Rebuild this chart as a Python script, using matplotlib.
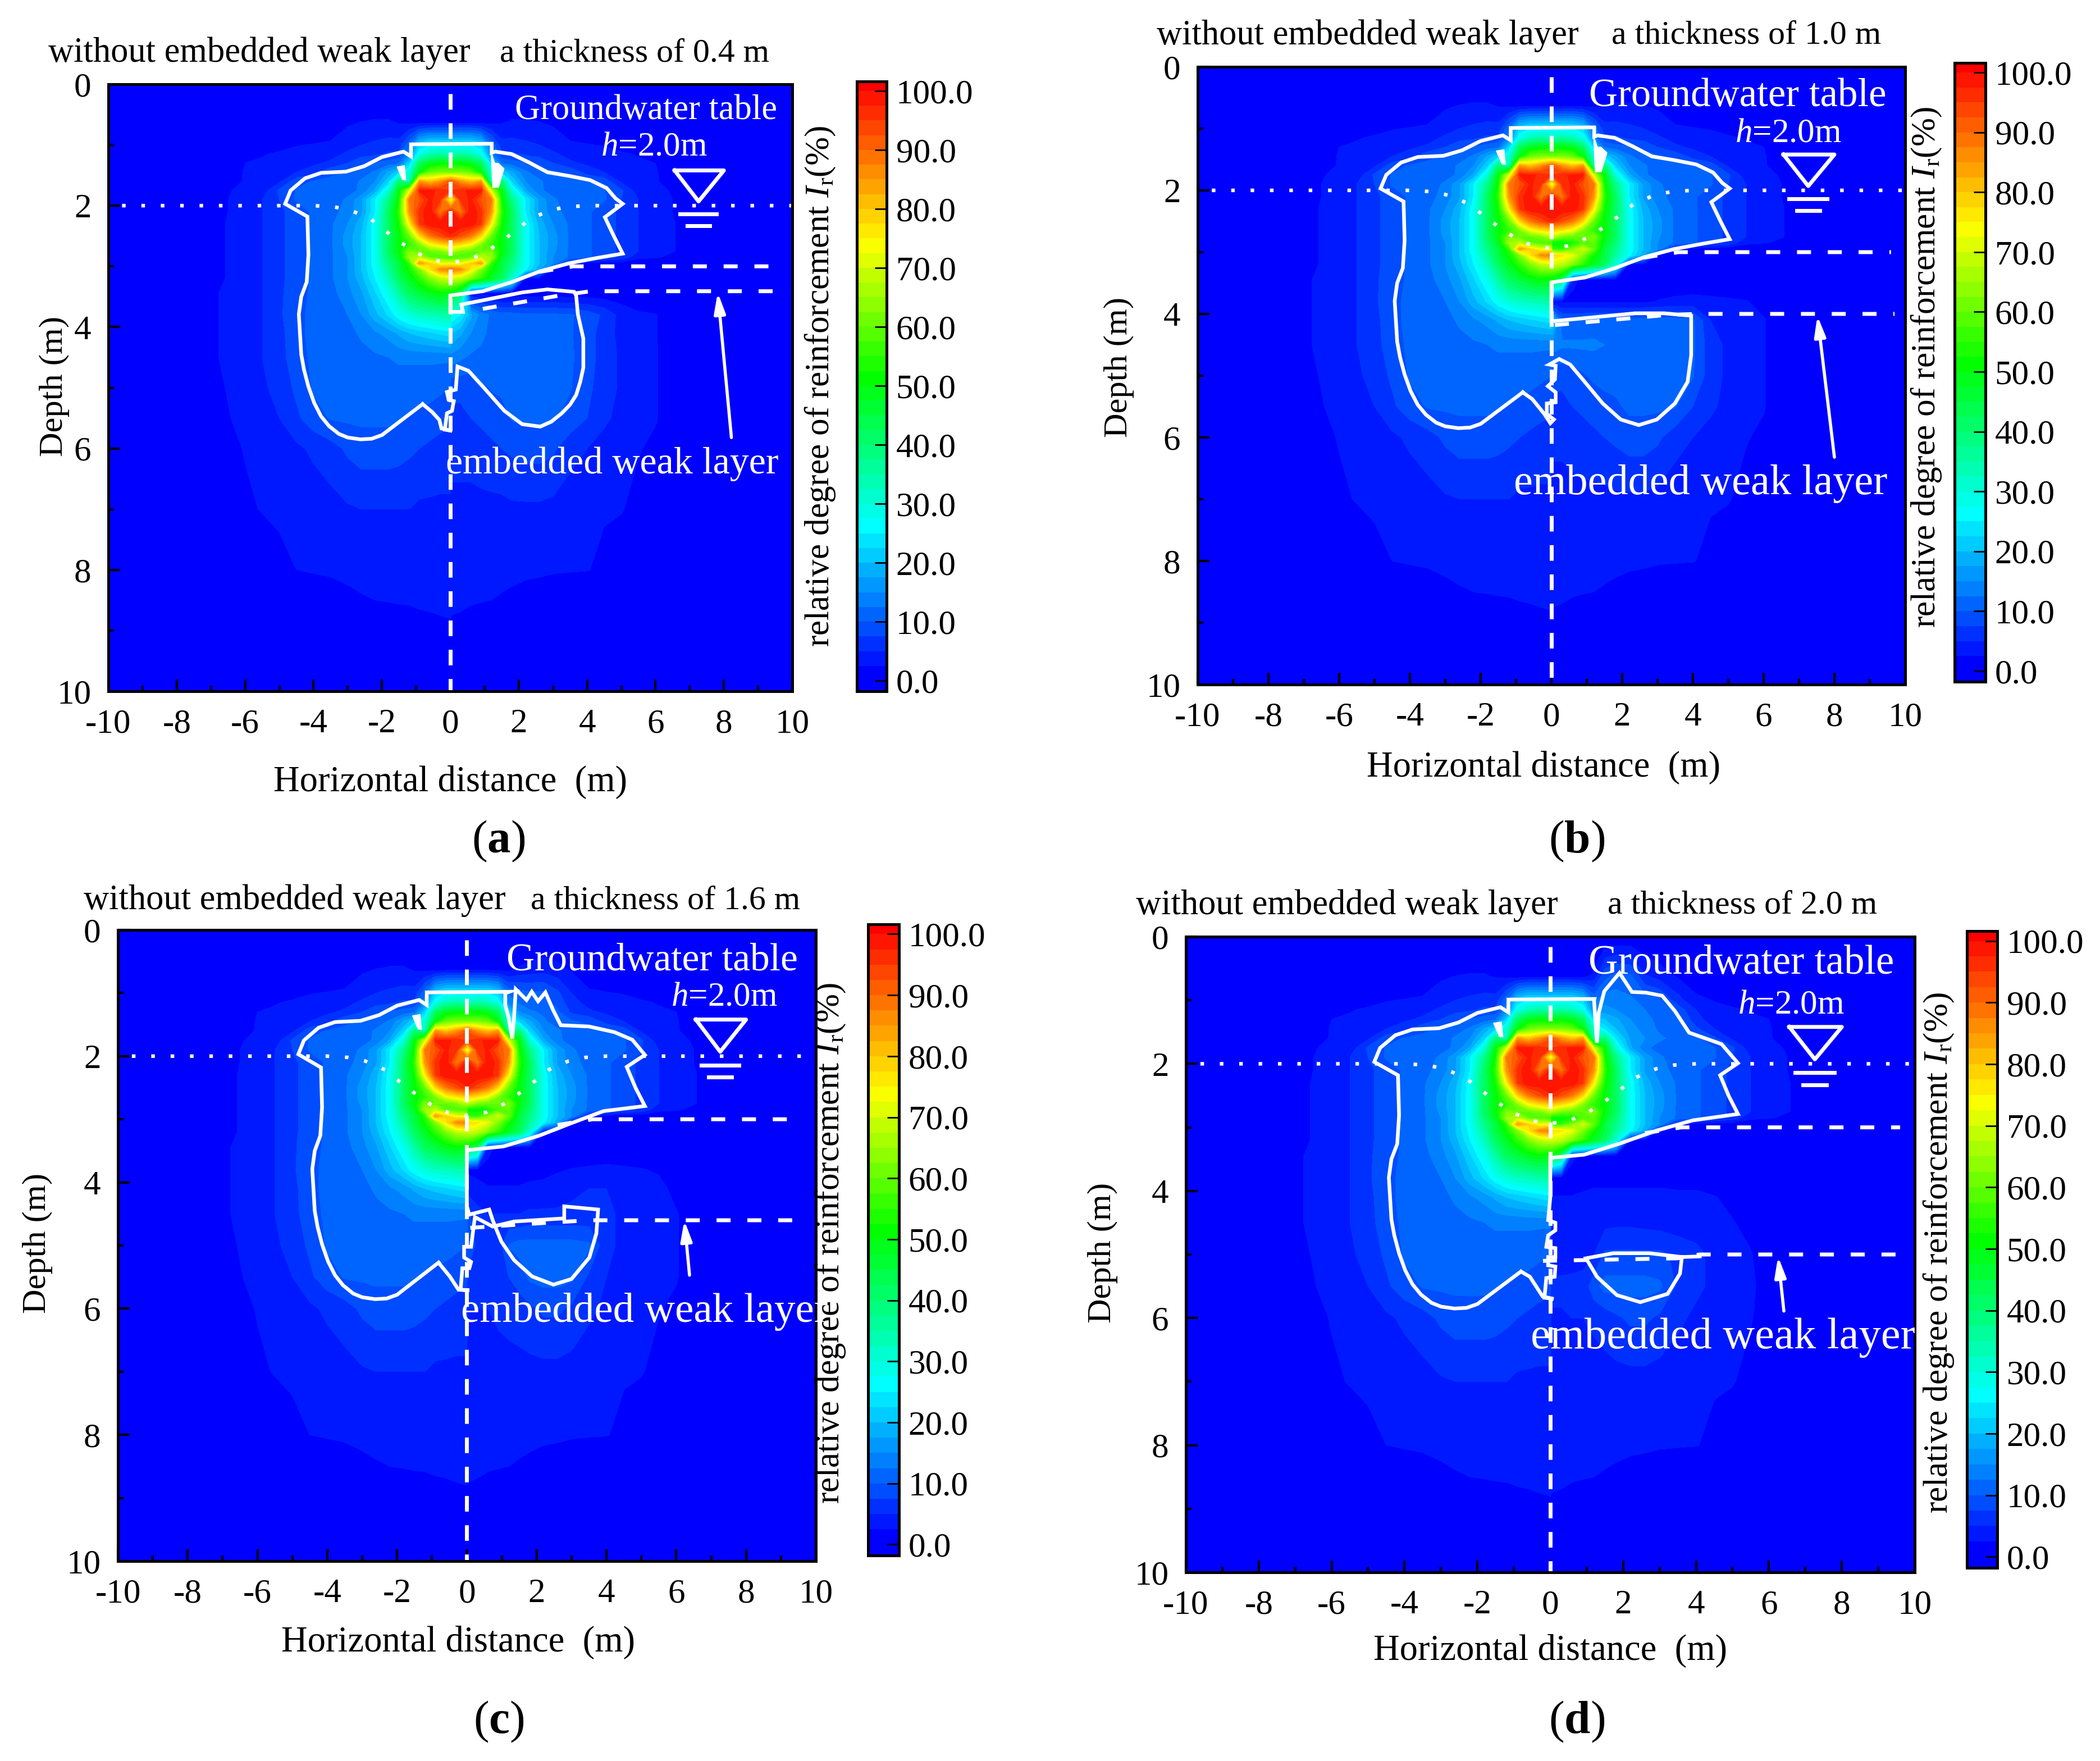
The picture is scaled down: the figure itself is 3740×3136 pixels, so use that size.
#!/usr/bin/env python3
"""Relative degree of reinforcement around a dropping point, four weak layer thicknesses."""

import numpy as np
import matplotlib
matplotlib.use("Agg")
import matplotlib.pyplot as plt
from matplotlib.colors import LinearSegmentedColormap
from matplotlib.ticker import MultipleLocator

plt.rcParams['font.family'] = ['Liberation Serif', 'DejaVu Serif']
plt.rcParams['mathtext.fontset'] = 'custom'
plt.rcParams['mathtext.rm'] = 'Liberation Serif'
plt.rcParams['mathtext.it'] = 'Liberation Serif:italic'
plt.rcParams['mathtext.bf'] = 'Liberation Serif:bold'

W, H = 3741, 3136

# distance from the centre line (m) and depth (m) of the value table
DIST = [0, .3, .6, .9, 1.2, 1.5, 1.8, 2.2, 2.6, 3, 3.5, 4, 4.5, 5, 5.5, 6, 7, 8, 10]
DEPTH = [0, .6, 1, 1.15, 1.3, 1.45, 1.6, 1.75, 1.9, 2.1, 2.3, 2.5, 2.65, 2.75, 2.85, 2.95, 3.05, 3.2, 3.45,
         3.8, 4.1, 4.5, 5, 5.5, 6, 7, 8, 8.5, 9, 10]

# left half, same in all panels
LEFT_VALUES = [
    [0] * 19,
    [0, 0, 0, 0, 1, 2, 2.6, 2.6, 2.4, 2, 1, .5, 0, 0, 0, 0, 0, 0, 0],
    [25, 25, 25, 22, 12, 6, 6, 5.5, 5, 4, 2.8, 2.6, 2.4, 2, 1.8, 1.5, 0, 0, 0],
    [33, 35, 33, 28, 14, 8, 8, 7, 6.5, 5.5, 4, 3.5, 3, 2.7, 2.4, 2, .5, 0, 0],
    [50, 50, 48, 42, 22, 12, 11, 10.2, 9.5, 7.5, 5.5, 4.5, 3.5, 3, 2.7, 2.5, 1, 0, 0],
    [62, 62, 60, 50, 30, 22, 18, 13, 11, 10.3, 9.5, 6.5, 5, 3.5, 3, 2.6, 1.2, 0, 0],
    [92, 85, 80, 85, 32, 40, 22, 15, 13, 11, 10.5, 10.2, 9, 4.5, 3.2, 2.6, 1.5, 0, 0],
    [95, 97, 98, 98, 70, 50, 30, 18, 13, 11.5, 10.8, 10.5, 10.2, 8, 3.5, 2.8, 2, .3, 0],
    [72, 96, 98, 92, 88, 52, 38, 25, 17, 13, 11, 10.5, 10.3, 7.5, 5, 3, 2, .5, 0],
    [98, 88, 100, 96, 85, 55, 42, 25, 17, 13.5, 11.5, 10.5, 8.5, 7, 5, 3, 2, .6, 0],
    [100, 100, 100, 95, 75, 52, 42, 27, 19, 15, 12, 10.5, 8.5, 7, 5, 3.2, 2, .6, 0],
    [97, 93, 88, 78, 60, 50, 42, 27, 20, 16, 12, 10.5, 8.5, 7, 5, 3.2, 2, .6, 0],
    [78, 76, 72, 62, 55, 50, 42, 27, 20, 16, 12, 10.5, 8.5, 7, 5, 3.2, 2, .6, 0],
    [68, 62, 60, 60, 62, 50, 42, 27, 20, 15.5, 12, 10.5, 8.5, 7, 5, 3.2, 2, .6, 0],
    [56, 58, 60, 68, 65, 48, 40, 27, 20, 15, 12, 10.5, 8.5, 7, 5, 3.2, 2, .6, 0],
    [72, 72, 78, 85, 55, 45, 38, 27, 20, 15, 12, 10.5, 8.5, 7, 5, 3.2, 2, .6, 0],
    [88, 86, 76, 62, 52, 45, 36, 26, 20, 15, 12, 10.5, 8.5, 7, 5, 3.2, 2, .6, 0],
    [70, 68, 62, 55, 48, 42, 33, 25, 19, 15, 12, 10.5, 8.5, 7, 5, 3.2, 2, .6, 0],
    [48, 50, 48, 45, 42, 35, 28, 22, 17, 14, 11.5, 10.5, 9, 7, 5, 3.5, 2.2, .6, 0],
    [35, 34, 33, 32, 30, 27, 23, 19, 15, 12.5, 11, 10.5, 9.5, 7, 5, 3.5, 2.2, .7, 0],
    [24, 23, 22, 21, 20, 18, 16, 14.5, 13, 11.5, 10.8, 10.5, 9.5, 6.5, 5, 3.5, 2.2, .8, 0],
    [13, 13, 13, 13, 13, 13, 12.5, 12, 11.5, 11, 10.8, 10.5, 9, 6.5, 5, 3.5, 2.2, .8, 0],
    [10, 10.5, 11, 11, 11, 11, 11, 11, 10.8, 10.7, 10.5, 10.3, 8, 6, 4.5, 3.2, 2, .7, 0],
    [8, 8.5, 9, 9.5, 9.8, 10.3, 10.5, 10.5, 10.5, 10.4, 10.2, 9, 7, 5, 3.8, 3, 1.8, .6, 0],
    [6.5, 6.5, 7, 7.5, 8, 8.5, 8.8, 8.8, 8.8, 8, 6.5, 5.5, 4.5, 3.8, 3, 2.6, 1.5, .4, 0],
    [4.5, 4.5, 4.5, 4.5, 5, 5, 5, 5, 5, 4.7, 4, 3.5, 3.2, 2.8, 2.6, 2.2, 1, .2, 0],
    [3.2, 3.2, 3.2, 3.2, 3.2, 3.2, 3.2, 3.2, 3.2, 3, 2.8, 2.7, 2.5, 2, 1.2, .5, .2, 0, 0],
    [2.8, 2.8, 2.8, 2.8, 2.7, 2.7, 2.6, 2.5, 2.3, 2, 1.5, 1, .5, .2, 0, 0, 0, 0, 0],
    [2.3, 2.2, 2, 1.8, 1.5, 1.2, 1, .8, .5, .3, .2, 0, 0, 0, 0, 0, 0, 0, 0],
    [0] * 19,
]

# right half, depths 2.85, 2.95, 3.05: the arc is weaker outside panel a
RIGHT_ARC_A = [
    [56, 58, 60, 68, 65, 48, 40, 27, 20, 15, 12, 10.5, 8.5, 7, 3, 2.7, 1.5, .3, 0],
    [72, 72, 78, 85, 55, 45, 38, 27, 20, 15, 3, 1.5, 1, 1, 1, 1, 1, 0, 0],
    [88, 86, 76, 62, 52, 45, 36, 26, 18, 2, 1.5, 1, 1, 1, 1, 1, .5, 0, 0],
]
RIGHT_ARC_OTHERS = [
    [50, 50, 52, 58, 60, 48, 40, 27, 20, 15, 12, 10.5, 8.5, 7, 3, 2.7, 1.5, .3, 0],
    [55, 55, 62, 70, 60, 45, 38, 27, 20, 15, 3, 1.5, 1, 1, 1, 1, 1, 0, 0],
    [78, 76, 72, 62, 52, 45, 36, 26, 18, 2, 1.5, 1, 1, 1, 1, 1, .5, 0, 0],
]
# depths 3.2, 3.45: the top of the weak layer, same in all panels
RIGHT_LAYER_TOP = [
    [70, 68, 62, 55, 48, 42, 30, 2.5, 2, 1, 1, 1, 1, 1, 1, .5, 0, 0, 0],
    [48, 40, 3, 2, 1.5, 1, 1, 1, 1, 1, 1, 1, 1, 1, 1, .5, 0, 0, 0],
]
RIGHT_BOTTOM = [
    [2.8, 2.8, 2.7, 2.6, 2.5, 2.3, 2, 1.5, 1, .5, .2, 0, 0, 0, 0, 0, 0, 0, 0],
    [2.2, 2, 1.5, 1.2, 1, .8, .5, .3, 0, 0, 0, 0, 0, 0, 0, 0, 0, 0, 0],
    [0] * 19,
]

# right half, depths 3.8 ... 8
RIGHT_A = [
    [28, 25, 18, 14, 12, 11, 11, 10.5, 10.5, 10.5, 10.3, 9, 7, 4, 2.8, 2.6, .5, 0, 0],
    [20, 18, 15, 13, 12, 11.5, 11, 11, 10.5, 10.5, 10.3, 8.5, 6.5, 4, 3, 2.6, .8, 0, 0],
    [14, 13, 12, 12, 12, 12, 11.5, 11.5, 11, 11, 10.5, 8.5, 6.5, 4.5, 3.2, 2.6, 1, .2, 0],
    [8, 8, 8, 9.5, 10.2, 10.5, 11, 11, 11, 10.5, 10.2, 8, 6.5, 4.5, 3.2, 2.6, 1, .2, 0],
    [7, 7, 7.5, 8, 8.5, 9, 10.2, 10.5, 10.5, 10.4, 9, 7.5, 5.5, 4.2, 3, 2.6, 1, .2, 0],
    [6, 6, 6, 6.5, 7, 7.5, 8, 8.5, 8.5, 8, 6, 5, 4, 3.2, 2.6, 2.2, .8, 0, 0],
    [4.2, 4.2, 4.2, 4.2, 4.2, 4.2, 4.5, 4.5, 4.5, 4.2, 3.5, 3, 2.7, 2.6, 2, 1.4, .6, 0, 0],
    [3.1, 3.1, 3.1, 3.1, 3.1, 3.1, 3.1, 3, 3, 2.8, 2.7, 2.6, 2, 1.4, 1, .5, .2, 0, 0],
]
RIGHT_B = [
    [2, 2, 2, 2, 2, 2, 2, 2, 2, 2.6, 3, 3.2, 3, 2.8, 2.6, 2, .8, 0, 0],
    [22, 10.5, 10.5, 10.5, 11, 11, 11, 11, 11, 11, 11, 10.5, 5, 4, 3, 2.6, 1, 0, 0],
    [14, 13, 13, 13, 13, 12.5, 12, 12, 11.5, 11, 11, 10.5, 6, 4.5, 3, 2.6, 1, .2, 0],
    [8, 8, 8.5, 9.7, 10.5, 11, 11, 11, 11, 11, 10.5, 10.2, 6, 4.5, 3.2, 2.6, 1, .2, 0],
    [7, 7, 7.5, 8, 8.5, 9, 9.5, 10.5, 10.5, 10.5, 10.2, 7.5, 5.5, 4.2, 3, 2.6, 1, .2, 0],
    [5.5, 5.5, 6, 6.5, 7, 7.5, 8, 8.8, 8.8, 8, 6, 5, 4, 3.2, 2.6, 2.2, .8, 0, 0],
    [4.2, 4.2, 4.2, 4.2, 4.2, 4.2, 4.5, 4.5, 4.5, 4.2, 3.5, 3, 2.7, 2.6, 2, 1.4, .6, 0, 0],
    [3.1, 3.1, 3.1, 3.1, 3.1, 3.1, 3.1, 3, 3, 2.8, 2.7, 2.6, 2, 1.4, 1, .5, .2, 0, 0],
]
RIGHT_C = [
    [2, 2, 2, 2, 2, 2, 2, 2, 2.3, 2.6, 2.8, 3, 2.8, 2.6, 2.3, 1.8, .5, 0, 0],
    [4, 3, 2.6, 2.6, 2.6, 2.6, 2.8, 3, 3.5, 4.5, 5, 5, 4, 3.5, 3, 2, .8, 0, 0],
    [8, 6, 5, 5, 5, 5, 5.5, 5.5, 5.5, 5.5, 5.5, 5.5, 4.5, 4, 3, 2.6, 1, 0, 0],
    [9, 7, 6, 6, 10.2, 11, 11, 11, 11, 11, 10.5, 5.5, 4.5, 4, 3, 2.6, 1, .2, 0],
    [7, 6, 6, 6.5, 7.5, 8.5, 10.5, 11, 11, 10.5, 7, 5, 4.2, 3.6, 2.8, 2.6, 1, .2, 0],
    [5, 5, 5, 5.5, 6, 6.5, 7, 8, 8, 7, 5.5, 4.5, 3.8, 3.2, 2.6, 2.2, .8, 0, 0],
    [4, 4, 4, 4, 4, 4, 4.2, 4.2, 4.2, 4, 3.5, 3, 2.7, 2.6, 2, 1.4, .6, 0, 0],
    [3.1, 3.1, 3.1, 3.1, 3.1, 3.1, 3.1, 3, 3, 2.8, 2.7, 2.6, 2, 1.4, 1, .5, .2, 0, 0],
]
RIGHT_D = [
    [1, 1, 1.5, 2, 2, 2, 2, 2, 2, 2, 2, 2, 1.5, 1.5, 1, .5, 0, 0, 0],
    [2.6, 2.6, 2.6, 2.7, 3, 3, 3, 3, 3, 3, 2.8, 2.8, 2.6, 2, 1.5, 1, 0, 0, 0],
    [3, 3, 3, 3.5, 4, 4.2, 4.5, 4.5, 4.2, 4, 3.5, 3.2, 2.8, 2.6, 2, 1.2, .3, 0, 0],
    [3, 3, 3.5, 4, 5, 8, 8, 8, 8, 8, 7, 6, 4, 3.2, 2.6, 1.5, .5, 0, 0],
    [6, 6, 6, 6, 9, 11, 11, 11, 11, 10.5, 7, 5.5, 4.5, 3.5, 2.7, 2, .8, 0, 0],
    [4.5, 4.5, 5, 5, 5.5, 6, 7, 8, 8, 7, 5.5, 4.5, 3.8, 3, 2.6, 1.8, .6, 0, 0],
    [3.6, 3.6, 3.6, 3.8, 3.8, 4, 4, 4, 4, 3.8, 3.5, 3, 2.7, 2.6, 2, 1.4, .5, 0, 0],
    [3.1, 3.1, 3.1, 3.1, 3.1, 3.1, 3.1, 3, 3, 2.8, 2.7, 2.6, 2, 1.4, 1, .5, .2, 0, 0],
]

# the bumps above the ground in panels c and d (depths .6, 1, 1.15, 1.3, 1.45, 1.6)
BUMP_C = [
    [0, 0, 0, 0, 1, 2.6, 3, 3.5, 3, 2, 1, .5, 0, 0, 0, 0, 0, 0, 0],
    [25, 25, 25, 22, 12, 11, 10.5, 10.5, 8, 5, 2.8, 2.6, 2.4, 2, 1.8, 1.5, 0, 0, 0],
    [33, 35, 33, 28, 14, 12, 11, 11, 9, 6, 4, 3.5, 3, 2.7, 2.4, 2, .5, 0, 0],
    [50, 50, 48, 42, 22, 15, 13, 12, 10.5, 7, 5.5, 4.5, 3.5, 3, 2.7, 2.5, 1, 0, 0],
    [62, 62, 60, 50, 30, 22, 18, 13, 11, 10.3, 9.5, 6.5, 5, 3.5, 3, 2.6, 1.2, 0, 0],
    [92, 85, 80, 85, 32, 40, 22, 15, 13, 11, 10.5, 10.2, 9, 4.5, 3.2, 2.6, 1.5, 0, 0],
]
BUMP_D = [
    [0, 0, 0, 0, 3, 9, 10.5, 10.2, 5, 3.5, 2, 1, 0, 0, 0, 0, 0, 0, 0],
    [25, 25, 25, 22, 12, 14, 14, 13, 11.5, 10.5, 6, 3, 2.4, 2, 1.8, 1.5, 0, 0, 0],
    [33, 35, 33, 28, 14, 16, 15, 14, 12.5, 11.5, 9, 5, 3, 2.7, 2.4, 2, .5, 0, 0],
    [50, 50, 48, 42, 22, 20, 18, 15, 13, 12, 10.5, 6, 3.5, 3, 2.7, 2.5, 1, 0, 0],
    [62, 62, 60, 50, 30, 24, 20, 16, 14, 12, 11, 8, 5, 3.5, 3, 2.6, 1.2, 0, 0],
    [92, 85, 80, 85, 32, 40, 24, 17, 15, 13, 11.5, 10.5, 8, 4.5, 3.2, 2.6, 1.5, 0, 0],
]

# white 10 % outline, left side and box, from the notch round to the box top right
OUTLINE_LEFT_X = [-.81, -1.37, -2, -2.3, -2.63, -3, -3.26, -3.55, -3.78, -3.98, -4.15, -4.28, -4.36, -4.43, -4.36,
                  -4.2, -4.15, -4.18, -4.83, -4.67, -4.25, -3.78, -3.05, -2.52, -2, -1.37, -1.15, -1.15, 1.21]
OUTLINE_LEFT_Y = [5.27, 5.51, 5.78, 5.84, 5.85, 5.82, 5.76, 5.63, 5.47, 5.25, 4.98, 4.7, 4.45, 3.79, 3.5,
                  3.26, 2.81, 2.18, 1.97, 1.75, 1.55, 1.46, 1.44, 1.35, 1.2, 1.11, 1.19, .99, .98]
BLOB_X = [-1.56, -1.34, -1.3, -1.4, -1.56]
BLOB_Y = [1.36, 1.34, 1.58, 1.57, 1.36]
WEDGE_X = [1.19, 1.3, 1.4, 1.57, 1.41, 1.24]
WEDGE_Y = [1.11, 1.3, 1.3, 1.39, 1.7, 1.7]

# right side of the outline, top of box down to the notch
OUTLINE_A_X = [1.21, 1.21, 1.31, 1.79, 2.31, 2.84, 3.47, 4.09, 4.57, 4.83, 5.04, 4.52, 4.78, 5.04, 4.31, 3.47,
               2.63, 1.79, .95, 0, 0, .37, .32, .95, 2.1, 2.84, 3.62, 3.68, 3.73, 3.89, 3.89, 3.8, 3.68, 3.5, 3.26,
               2.95, 2.63, 2.1, 1.58, .95, .53, .21, .16, -.1, -.05, .1, .05, -.1, -.16, .05, -.26, -.32, -.53, -.81]
OUTLINE_A_Y = [.98, 1.13, 1.11, 1.15, 1.29, 1.45, 1.51, 1.58, 1.71, 1.88, 1.97, 2.19, 2.5, 2.79, 2.86, 2.95,
               3.08, 3.26, 3.41, 3.48, 3.75, 3.75, 3.63, 3.56, 3.43, 3.38, 3.42, 3.48, 3.79, 4.19, 4.67, 4.9, 5.12,
               5.28, 5.42, 5.56, 5.64, 5.6, 5.38, 4.98, 4.72, 4.65, 5.03, 5.07, 5.2, 5.22, 5.38, 5.42, 5.69, 5.71,
               5.67, 5.53, 5.4, 5.27]
OUTLINE_B_X = [1.21, 1.21, 1.31, 1.79, 2.31, 2.84, 3.47, 4.09, 4.57, 4.83, 5.04, 4.52, 4.78, 5.04, 4.31, 3.47,
               2.63, 1.79, .95, 0, 0, 0, .73, 2.37, 3.18, 3.95, 3.95, 3.85, 3.49, 2.98, 2.47, 1.96, 1.45, .84, .53,
               .22, -.06, .12, .1, -.1, .12, .12, -.13, -.13, .07, -.03, -.2, -.54, -.81]
OUTLINE_B_Y = [.98, 1.13, 1.11, 1.15, 1.29, 1.45, 1.51, 1.58, 1.71, 1.88, 1.97, 2.19, 2.5, 2.79, 2.86, 2.95,
               3.08, 3.26, 3.41, 3.49, 4.06, 4.12, 4.08, 3.99, 3.99, 4.03, 4.67, 5.1, 5.45, 5.71, 5.8, 5.71, 5.45,
               5.03, 4.82, 4.73, 4.82, 4.84, 5.06, 5.17, 5.27, 5.43, 5.45, 5.62, 5.71, 5.77, 5.62, 5.38, 5.27]
OUTLINE_C_X = [1.1, 1.1, 1.2, 1.3, 1.35, 1.4, 1.71, 1.86, 2.04, 2.25, 2.48, 2.69, 3.5, 4.23, 4.74, 5.1, 4.58, 4.84,
               5.1, 3.92, 3, 2.07, 1.05, 0, 0, .07, .64, .74, .99, 1.35, 1.87, 2.48, 3, 3.51, 3.71, 3.76, 2.79, 2.79,
               1.35, .74, .23, .12, -.08, -.08, .12, .07, -.13, -.18, .07, -.24, -.49, -.8]
OUTLINE_C_Y = [1, 1.19, 1.4, 1.72, 1.4, .94, 1.11, .98, 1.13, .99, 1.28, 1.51, 1.53, 1.62, 1.74, 1.98, 2.17, 2.51,
               2.79, 2.87, 3.06, 3.26, 3.43, 3.49, 4.38, 4.51, 4.43, 4.6, 4.94, 5.23, 5.49, 5.62, 5.53, 5.19, 4.81,
               4.43, 4.38, 4.57, 4.62, 4.7, 4.55, 5.02, 5.02, 5.19, 5.26, 5.36, 5.36, 5.7, 5.71, 5.7, 5.49, 5.28]
OUTLINE_D_X = [1.2, 1.28, 1.33, 1.48, 1.9, 2.24, 2.62, 3.07, 3.42, 3.81, 4.7, 5.15, 4.66, 4.9, 5.15, 3.91, 2.92, 1.93,
               .93, 0, 0, -.06, .14, .14, -.06, -.11, .14, .14, -.06, -.06, .14, .12, -.11, -.16, .09, -.21, -.56, -.8]
OUTLINE_D_Y = [1, 1.67, 1.2, .86, .57, .87, .88, .93, 1.17, 1.51, 1.69, 1.99, 2.18, 2.51, 2.79, 2.89, 3.05, 3.25,
               3.43, 3.48, 4.1, 4.46, 4.5, 4.62, 4.7, 4.88, 4.9, 5.04, 5.04, 5.17, 5.19, 5.35, 5.37, 5.68, 5.7, 5.66,
               5.35, 5.27]
LENS_D_X = [4.1, 3.61, 2.72, 1.73, .98, 1.28, 1.83, 2.47, 3.22, 3.56, 3.61]
LENS_D_Y = [5.03, 5.04, 4.98, 4.98, 5.06, 5.35, 5.64, 5.75, 5.62, 5.3, 5.04]

# groundwater table, dotted
WATER_X = [-9.6, -4, -3.4, -2.9, -2.33, -1.89, -1.47, -1.05, -.55, 0, .55, 1.05, 1.47, 1.89, 2.33, 2.9, 3.4, 4, 10]
WATER_Y = [2, 2, 2.02, 2.08, 2.22, 2.42, 2.6, 2.76, 2.89, 2.94, 2.89, 2.76, 2.6, 2.42, 2.22, 2.08, 2.02, 2, 2]

# weak layer boundaries, dashed
LAYER_TOP_X = [2.6, 3.6, 9.6]
LAYER_TOP_Y = [3.09, 3, 3]
LAYER_BOTTOM = {
    'a': ([.95, 3.1, 4.1, 9.6], [3.7, 3.49, 3.41, 3.41]),
    'b': ([.1, 3.2, 4.1, 9.7], [4.18, 4.02, 4, 4]),
    'c': ([.1, 2, 3.5, 9.6], [4.72, 4.65, 4.6, 4.6]),
    'd': ([-.2, 3.5, 4.1, 9.6], [5.1, 5.06, 5, 5]),
}

THICKNESS = {'a': '0.4', 'b': '1.0', 'c': '1.6', 'd': '2.0'}

# pixel boxes of the axes and of the colour bars, left right top bottom
AXES_BOX = {'a': (193, 1411, 150, 1231), 'b': (2133, 3393, 119, 1219),
            'c': (210, 1453, 1656, 2780), 'd': (2112, 3410, 1668, 2800)}
CBAR_BOX = {'a': (1526, 1579, 145, 1231), 'b': (3481, 3536, 112, 1214),
            'c': (1546, 1601, 1646, 2770), 'd': (3503, 3557, 1658, 2792)}

# text positions in pixels of the original
LABEL_POS = {
    'a': dict(t1=(462, 95), t2=(1130, 95), xl=(802, 1393), yl=(97, 688), cl=(1461, 688), tag=(888, 1498),
              gw=(1151, 197), hh=(1165, 262), weak=(1090, 826)),
    'b': dict(t1=(2436, 64), t2=(3110, 64), xl=(2749, 1367), yl=(1993, 654), cl=(3431, 654), tag=(2808, 1498),
              gw=(3095, 172), hh=(3185, 238), weak=(3029, 862)),
    'c': dict(t1=(525, 1604), t2=(1185, 1604), xl=(816, 2925), yl=(67, 2214), cl=(1479, 2214), tag=(888, 3066),
              gw=(1161, 1711), hh=(1290, 1776), weak=(1148, 2336)),
    'd': dict(t1=(2399, 1613), t2=(3103, 1613), xl=(2761, 2940), yl=(1964, 2231), cl=(3453, 2231), tag=(2808, 3066),
              gw=(3101, 1716), hh=(3190, 1790), weak=(3068, 2382)),
}
BOX_FONT = {'a': 45, 'b': 51, 'c': 50, 'd': 52.5}
ARROWS = {'a': ((8.22, 5.82), (7.82, 3.43)), 'b': ((8, 6.32), (7.52, 4.03)),
          'c': ((6.38, 5.47), (6.23, 4.6)), 'd': ((6.41, 5.89), (6.25, 5.03))}

LEVELS = np.arange(0, 105, 2.5)
JET = LinearSegmentedColormap.from_list('ir', [(0, '#0000ff'), (.25, '#00ffff'), (.5, '#00ff00'),
                                               (.73, '#ffff00'), (1, '#ff0000')])
BAND_COLORS = [JET(min(l / 100, 1)) for l in LEVELS[:-1]]

fig = plt.figure(figsize=(W / 100, H / 100), dpi=100)


def px(x, y):
    return x / W, 1 - y / H


def box_axes(box):
    left, right, top, bottom = box
    return fig.add_axes([left / W, 1 - bottom / H, (right - left) / W, (bottom - top) / H])


def panel_field(key):
    lower = {'a': RIGHT_A, 'b': RIGHT_B, 'c': RIGHT_C, 'd': RIGHT_D}[key]
    arc = RIGHT_ARC_A if key == 'a' else RIGHT_ARC_OTHERS
    right = np.array(LEFT_VALUES[:14] + arc + RIGHT_LAYER_TOP + lower + RIGHT_BOTTOM, dtype=float)
    if key == 'c':
        right[1:7] = BUMP_C
    if key == 'd':
        right[1:7] = BUMP_D
    left = np.array(LEFT_VALUES, dtype=float)
    dist = np.array(DIST, dtype=float)
    right_x = dist.copy()
    right_x[0] = 0.03  # the field jumps across the centre line
    x = np.concatenate([-dist[::-1], right_x])
    z = np.hstack([left[:, ::-1], right])
    return x, np.array(DEPTH), z


def draw_panel(key, outline_x, outline_y):
    ax = box_axes(AXES_BOX[key])
    ax.set_facecolor('#0000ff')
    x, y, z = panel_field(key)
    ax.contourf(x, y, z, levels=LEVELS, colors=BAND_COLORS, antialiased=False)

    line = dict(color='white', solid_joinstyle='miter', zorder=4)
    ax.plot(OUTLINE_LEFT_X + outline_x, OUTLINE_LEFT_Y + outline_y, lw=4.7, **line)
    if key == 'd':
        ax.plot(LENS_D_X, LENS_D_Y, lw=4.7, **line)
    ax.fill(BLOB_X, BLOB_Y, color='white', zorder=4)
    if key in 'ab':
        ax.fill(WEDGE_X, WEDGE_Y, color='white', zorder=4)

    # centre line and boundaries
    ax.plot([0, 0], [.16, 10], color='white', lw=5, ls=(0, (4, 3.5)), zorder=5)
    ax.plot(WATER_X, WATER_Y, color='white', lw=4.6, ls=(0, (1, 4.4)), zorder=5)
    ax.plot(LAYER_TOP_X, LAYER_TOP_Y, color='white', lw=5, ls=(0, (3.6, 4.3)), zorder=5)
    bx, by = LAYER_BOTTOM[key]
    ax.plot(bx, by, color='white', lw=5, ls=(0, (3.6, 4.3)), zorder=5)

    # water table sign
    ax.plot([6.56, 8, 7.26, 6.56], [1.42, 1.42, 1.93, 1.42], color='white', lw=5, zorder=5)
    ax.plot([6.72, 7.79], [2.14, 2.14], color='white', lw=5, zorder=5)
    ax.plot([6.93, 7.58], [2.33, 2.33], color='white', lw=5, zorder=5)

    tail, head = ARROWS[key]
    ax.annotate('', xy=head, xytext=tail, zorder=6,
                arrowprops=dict(arrowstyle='-|>,head_length=2.2,head_width=.6', color='white', lw=4,
                                shrinkA=0, shrinkB=0, mutation_scale=10))

    ax.set_xlim(-10, 10)
    ax.set_ylim(10, 0)
    ax.xaxis.set_major_locator(MultipleLocator(2))
    ax.xaxis.set_minor_locator(MultipleLocator(1))
    ax.yaxis.set_major_locator(MultipleLocator(2))
    ax.yaxis.set_minor_locator(MultipleLocator(1))
    ax.set_xticks(np.arange(-10, 11, 2))
    ax.set_xticklabels([str(v) for v in np.arange(-10, 11, 2)])
    ax.tick_params(which='major', direction='in', length=15, width=3, labelsize=44, pad=22, zorder=8)
    ax.tick_params(which='minor', direction='in', length=7.5, width=3, zorder=8)
    for s in ax.spines.values():
        s.set_linewidth(3.6)
        s.set_zorder(9)

    pos = LABEL_POS[key]
    fig.text(*px(*pos['t1']), 'without embedded weak layer', fontsize=45, ha='center', va='center')
    fig.text(*px(*pos['t2']), f'a thickness of {THICKNESS[key]} m', fontsize=43, ha='center', va='center')
    fig.text(*px(*pos['xl']), 'Horizontal distance  (m)', fontsize=46.5, ha='center', va='center')
    fig.text(*px(*pos['yl']), 'Depth (m)', fontsize=43.5, ha='center', va='center', rotation=90)
    fig.text(*px(*pos['cl']), r'relative degree of reinforcement $\mathit{I}_{\mathrm{r}}$(%)', fontsize=44,
             ha='center', va='center', rotation=90)
    fig.text(*px(*pos['tag']), rf'($\mathbf{{{key}}}$)', fontsize=60, ha='center', va='center')
    size = BOX_FONT[key]
    fig.text(*px(*pos['gw']), 'Groundwater table', fontsize=size, color='white', ha='center', va='center', zorder=10)
    fig.text(*px(*pos['hh']), r'$\mathit{h}$=2.0m', fontsize=44, color='white', ha='center', va='center', zorder=10)
    fig.text(*px(*pos['weak']), 'embedded weak layer', fontsize=size + 4, color='white', ha='center', va='center',
             zorder=10)

    # colour bar
    cax = box_axes(CBAR_BOX[key])
    edges = np.arange(-2.5, 105, 2.5)
    cax.pcolormesh([0, 1], edges, np.arange(-2.5, 102.5, 2.5).reshape(-1, 1),
                   cmap=LinearSegmentedColormap.from_list('bands', [BAND_COLORS[0]] + BAND_COLORS, N=len(edges) - 1),
                   shading='flat', antialiased=False)
    cax.set_xlim(0, 1)
    cax.set_ylim(-1.8, 101.6)
    cax.set_xticks([])
    cax.yaxis.tick_right()
    cax.set_yticks(np.arange(0, 101, 10))
    cax.set_yticklabels([f'{v:.1f}' for v in np.arange(0, 101, 10)])
    cax.tick_params(axis='y', direction='in', length=15, width=2, labelsize=44, pad=12)
    for s in cax.spines.values():
        s.set_linewidth(3.6)


draw_panel('a', OUTLINE_A_X, OUTLINE_A_Y)
draw_panel('b', OUTLINE_B_X, OUTLINE_B_Y)
draw_panel('c', OUTLINE_C_X, OUTLINE_C_Y)
draw_panel('d', OUTLINE_D_X, OUTLINE_D_Y)

fig.savefig('out.png', dpi=100, facecolor='white')
